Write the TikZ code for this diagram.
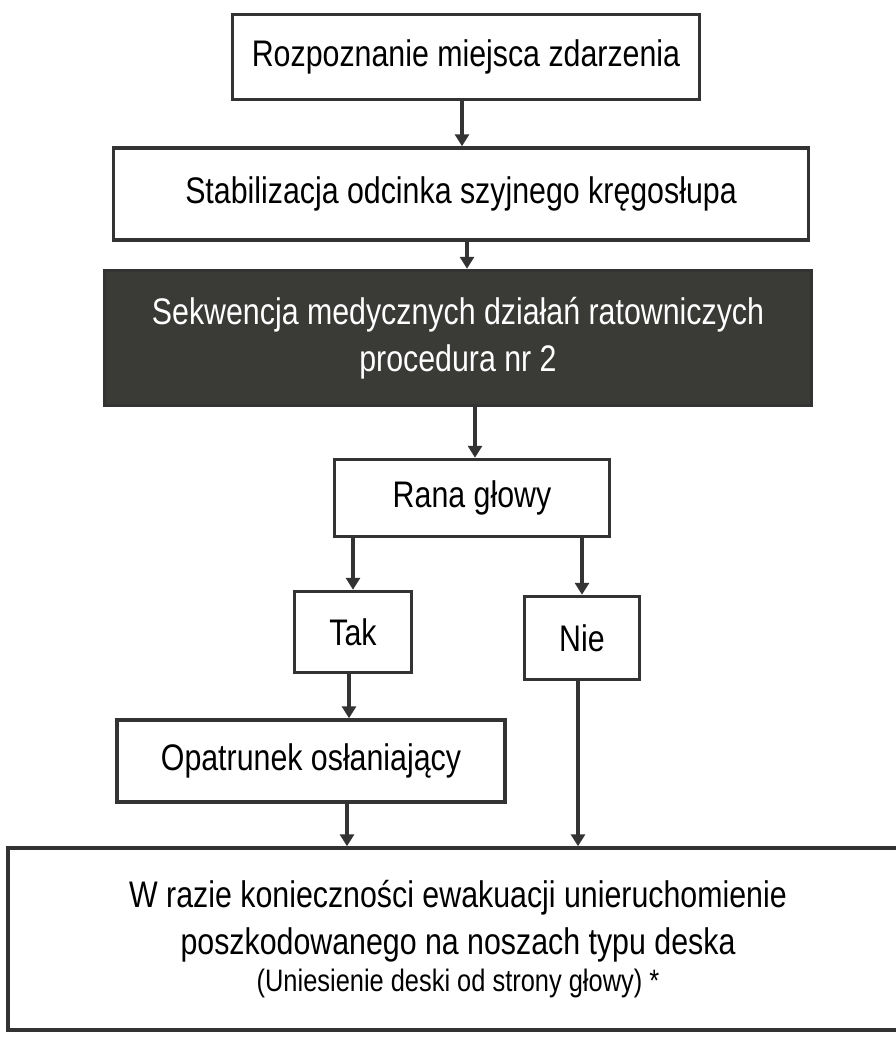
\documentclass[tikz,border=0pt]{standalone}
\usepackage{fontspec}
\setmainfont{Liberation Sans}[FakeStretch=0.82]
\usetikzlibrary{arrows.meta,positioning}
\definecolor{ink}{HTML}{333333}
\definecolor{darkfill}{HTML}{3A3A37}
\begin{document}
\begin{tikzpicture}[x=1pt,y=-1pt,
  box/.style={draw=ink,line width=3.5pt,fill=white,inner sep=0pt,align=center,
    font=\fontsize{37}{47}\selectfont,text=black},
  darkbox/.style={box,fill=darkfill,text=white},
  arr/.style={draw=ink,line width=4.5pt,-{Triangle[width=14pt,length=12pt]}}]
\useasboundingbox (0,0) rectangle (896,1041);
% process boxes
\node[box,minimum width=467pt,minimum height=85pt] (b1) at (466,57) {Rozpoznanie miejsca zdarzenia};
\node[box,minimum width=695pt,minimum height=92pt] (b2) at (461,194) {Stabilizacja odcinka szyjnego kręgosłupa};
\node[darkbox,minimum width=707pt,minimum height=135pt] (b3) at (458,338) {Sekwencja medycznych działań ratowniczych\\procedura nr 2};
\node[box,minimum width=275pt,minimum height=77pt] (rana) at (472,498) {Rana głowy};
\node[box,minimum width=117pt,minimum height=81pt] (tak) at (353,632) {Tak};
\node[box,minimum width=115pt,minimum height=83pt] (nie) at (582,638) {Nie};
\node[box,minimum width=388pt,minimum height=82pt] (op) at (311,761) {Opatrunek osłaniający};
\node[box,minimum width=900pt,minimum height=182pt] (ev) at (458,939)
  {W razie konieczności ewakuacji unieruchomienie\\poszkodowanego na noszach typu deska\\[-10pt]{\fontsize{31}{34}\selectfont (Uniesienie deski od strony głowy) *}};
% connectors
\draw[arr] ([xshift=-4pt]b1.south) -- ([xshift=-4pt]b1.south |- b2.north);
\draw[arr] ([xshift=6pt]b2.south) -- ([xshift=6pt]b2.south |- b3.north);
\draw[arr] ([xshift=17pt]b3.south) -- ([xshift=17pt]b3.south |- rana.north);
\draw[arr] (rana.south -| tak.north) -- (tak.north);
\draw[arr] (rana.south -| nie.north) -- (nie.north);
\draw[arr] ([xshift=-4pt]tak.south) -- ([xshift=-4pt]tak.south |- op.north);
\draw[arr] ([xshift=-6pt]tak.south |- op.south) -- ([xshift=-6pt]tak.south |- ev.north);
\draw[arr] ([xshift=-4pt]nie.south) -- ([xshift=-4pt]nie.south |- ev.north);
\end{tikzpicture}
\end{document}
